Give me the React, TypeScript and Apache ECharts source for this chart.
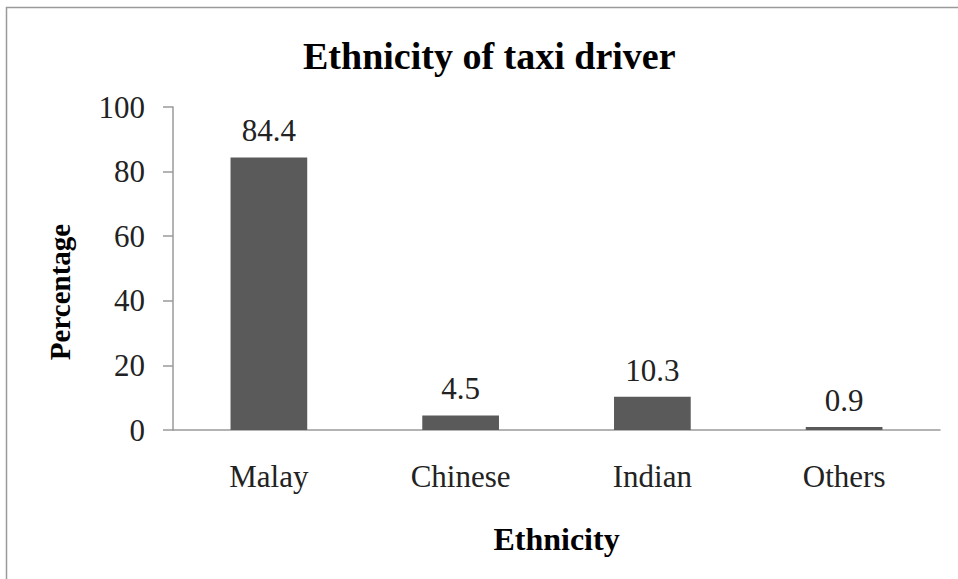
import React, { useEffect, useRef } from "react";
import * as echarts from "echarts";

const categories = ["Malay", "Chinese", "Indian", "Others"];
const percentages = [84.4, 4.5, 10.3, 0.9];
const yTicks = { min: 0, max: 100, interval: 20 };
const titleText = "Ethnicity of taxi driver";
const xName = "Ethnicity";
const yName = "Percentage";

const FONT = "'Liberation Serif', 'Times New Roman', serif";

export default function App() {
  const ref = useRef<HTMLDivElement>(null);
  useEffect(() => {
    if (!ref.current) return;
    const chart = echarts.init(ref.current, null, { renderer: "svg" });
    chart.setOption({
      animation: false,
      backgroundColor: "#ffffff",
      title: {
        text: titleText,
        left: 298,
        top: 32,
        textStyle: { fontFamily: FONT, fontSize: 38, fontWeight: "bold", color: "#000" },
      },
      grid: { left: 173, right: 18, top: 107, bottom: 149 },
      xAxis: {
        type: "category",
        data: categories,
        name: xName,
        nameLocation: "middle",
        nameGap: 93,
        nameTextStyle: { fontFamily: FONT, fontSize: 32, fontWeight: "bold", color: "#000" },
        axisLine: { lineStyle: { color: "#9a9a9a", width: 1.5 } },
        axisTick: { show: false },
        axisLabel: { fontFamily: FONT, fontSize: 31, color: "#222", margin: 31 },
      },
      yAxis: {
        type: "value",
        min: yTicks.min,
        max: yTicks.max,
        interval: yTicks.interval,
        axisLine: { show: true, lineStyle: { color: "#9a9a9a", width: 1.5 } },
        axisTick: { show: true, length: 10, lineStyle: { color: "#9a9a9a", width: 1.5 } },
        splitLine: { show: false },
        axisLabel: { fontFamily: FONT, fontSize: 31, color: "#222", margin: 28 },
      },
      series: [
        {
          type: "bar",
          data: percentages,
          barWidth: "40%",
          itemStyle: { color: "#5a5a5a" },
          label: {
            show: true,
            position: "top",
            distance: 11,
            fontFamily: FONT,
            fontSize: 31,
            color: "#222",
            formatter: (p: any) => p.value.toFixed(1),
          },
        },
      ],
      graphic: [
        {
          type: "rect",
          shape: { x: 6.5, y: 7.5, width: 1200, height: 1200 },
          style: { fill: "none", stroke: "#9a9a9a", lineWidth: 1.5 },
          silent: true,
        },
        {
          type: "text",
          x: 60,
          y: 292,
          rotation: Math.PI / 2,
          style: {
            text: yName,
            font: `bold 29px ${FONT}`,
            fill: "#000",
            align: "center",
            verticalAlign: "middle",
          },
        },
      ],
    });
    return () => chart.dispose();
  }, []);
  return (
    <div
      ref={ref}
      style={{ position: "fixed", left: 0, top: 0, width: 958, height: 579 }}
    />
  );
}
